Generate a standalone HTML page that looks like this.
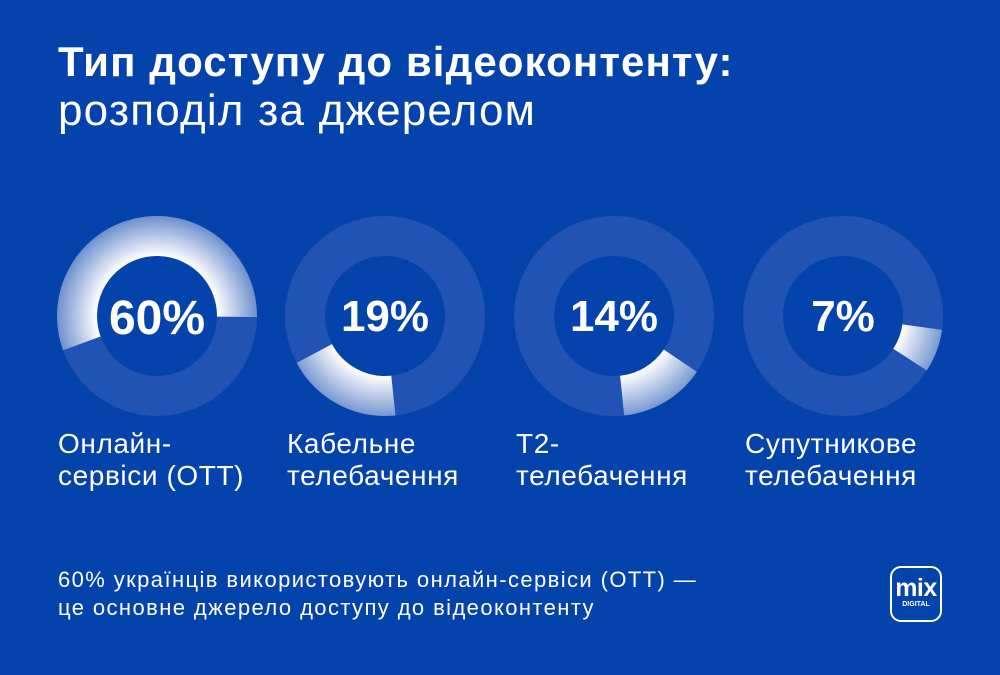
<!DOCTYPE html>
<html><head><meta charset="utf-8"><style>
html,body{margin:0;padding:0}
body{width:1000px;height:675px;background:#0443AB;position:relative;overflow:hidden;font-family:"Liberation Sans",sans-serif;color:#fff}
.t1{position:absolute;left:58px;top:38px;font-size:42px;font-weight:bold;letter-spacing:1.1px;white-space:nowrap}
.t2{position:absolute;left:58px;top:86px;font-size:44px;font-weight:normal;letter-spacing:1.2px;white-space:nowrap}
.lab{position:absolute;top:428px;font-size:28px;line-height:32px;letter-spacing:0.6px;white-space:nowrap}
.foot{position:absolute;left:58px;top:566px;font-size:22px;line-height:28px;letter-spacing:1.4px;white-space:nowrap}
.logo{position:absolute;left:890px;top:566px;width:52px;height:56px;border:2px solid #fff;border-radius:11px;box-sizing:border-box;text-align:center}
.logo .m{font-size:25px;font-weight:bold;line-height:24px;margin-top:8px;letter-spacing:-0.5px}
.logo .d{font-size:7px;font-weight:bold;line-height:9px}
</style></head><body>
<div class="t1">Тип доступу до відеоконтенту:</div>
<div class="t2">розподіл за джерелом</div>
<svg width="1000" height="675" style="position:absolute;left:0;top:0">
<defs>
<radialGradient id="g1" gradientUnits="userSpaceOnUse" cx="157" cy="316" r="100"><stop offset="0.6" stop-color="#fff"/><stop offset="1" stop-color="#fff" stop-opacity="0.35"/></radialGradient>
<radialGradient id="g2" gradientUnits="userSpaceOnUse" cx="385" cy="316" r="100"><stop offset="0.6" stop-color="#fff"/><stop offset="1" stop-color="#fff" stop-opacity="0.4"/></radialGradient>
<radialGradient id="g3" gradientUnits="userSpaceOnUse" cx="614" cy="316" r="100"><stop offset="0.6" stop-color="#fff"/><stop offset="1" stop-color="#fff" stop-opacity="0.4"/></radialGradient>
<radialGradient id="g4" gradientUnits="userSpaceOnUse" cx="843" cy="316" r="100"><stop offset="0.6" stop-color="#fff"/><stop offset="1" stop-color="#fff" stop-opacity="0.4"/></radialGradient>
</defs>
<g fill="none" stroke-width="40">
<circle cx="157" cy="316" r="80" stroke="#2053B3"/>
<circle cx="385" cy="316" r="80" stroke="#2053B3"/>
<circle cx="614" cy="316" r="80" stroke="#2053B3"/>
<circle cx="843" cy="316" r="80" stroke="#2053B3"/>
<circle cx="157" cy="316" r="80" stroke="url(#g1)" stroke-dasharray="280 600" transform="rotate(160 157 316)"/>
<circle cx="385" cy="316" r="80" stroke="url(#g2)" stroke-dasharray="95 600" transform="rotate(84 385 316)"/>
<circle cx="614" cy="316" r="80" stroke="url(#g3)" stroke-dasharray="70 600" transform="rotate(34 614 316)"/>
<circle cx="843" cy="316" r="80" stroke="url(#g4)" stroke-dasharray="35 600" transform="rotate(8 843 316)"/>
</g>
<g fill="#fff" font-family="Liberation Sans, sans-serif" font-weight="bold" text-anchor="middle">
<text x="157" y="334" font-size="48">60%</text>
<text x="385" y="331" font-size="44">19%</text>
<text x="614" y="331" font-size="44">14%</text>
<text x="843" y="331" font-size="44">7%</text>
</g>
</svg>
<div class="lab" style="left:58px">Онлайн-<br>сервіси (OTT)</div>
<div class="lab" style="left:287px">Кабельне<br>телебачення</div>
<div class="lab" style="left:516px">Т2-<br>телебачення</div>
<div class="lab" style="left:745px">Супутникове<br>телебачення</div>
<div class="foot">60% українців використовують онлайн-сервіси (OTT) —<br>це основне джерело доступу до відеоконтенту</div>
<div class="logo"><div class="m">mix</div><div class="d">DIGITAL</div></div>
</body></html>
